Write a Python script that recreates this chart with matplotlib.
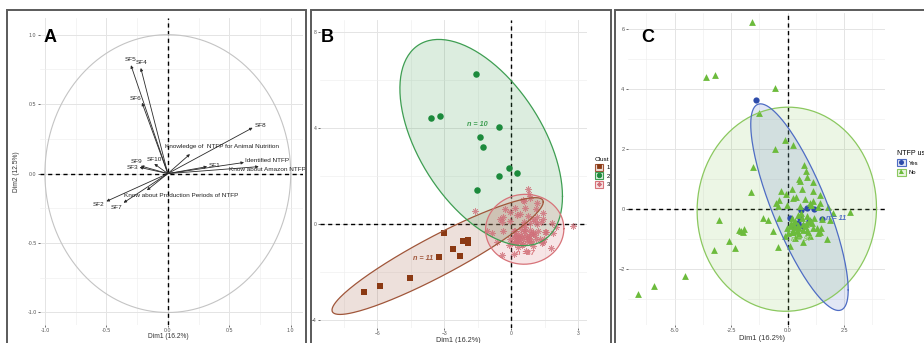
import numpy as np
import matplotlib.pyplot as plt
from matplotlib.patches import Patch, Rectangle
from matplotlib.lines import Line2D

plt.rcParams['font.family'] = ['Liberation Sans', 'DejaVu Sans']

W, H = 924, 343  # figure size in pixels

# ----------------------------
# Panel A: variables on Dim1 / Dim2
# ----------------------------
var_names = ["SF5", "SF4", "SF6", "SF8",
             "Knowledge of  NTFP for Animal Nutrition",
             "Identified NTFP", "Know about Amazon NTFP", "SF1",
             "SF10", "SF9", "SF3", "SF2", "SF7",
             "Know about Production Periods of NTFP"]
var_dim1 = [-0.30, -0.22, -0.21, 0.69, 0.18, 0.62, 0.74, 0.32,
            -0.11, -0.22, -0.23, -0.50, -0.36, -0.17]
var_dim2 = [0.78, 0.76, 0.51, 0.33, 0.14, 0.08, 0.05, 0.05,
            0.07, 0.055, 0.045, -0.20, -0.21, -0.12]

# ----------------------------
# Panels B and C: individuals (same PCA, two groupings)
# ----------------------------
clust1_dim1 = [-3.03, -2.15, -1.94, -1.96, -2.05, -2.60, -2.31, -3.24, -4.52, -5.90, -6.61]
clust1_dim2 = [-0.36, -0.71, -0.67, -0.78, -0.72, -1.06, -1.31, -1.38, -2.24, -2.58, -2.85]
clust1_use = ["No", "No", "No", "No", "No", "No", "No", "No", "No", "No", "No"]

clust2_dim1 = [-1.58, -3.60, -3.21, -0.55, -1.39, -1.25, -0.10, -0.55, 0.25, -1.52]
clust2_dim2 = [6.25, 4.42, 4.49, 4.06, 3.64, 3.21, 2.32, 2.01, 2.13, 1.42]
clust2_use = ["No", "No", "No", "No", "Yes", "No", "No", "No", "No", "No"]

clust3_dim1 = [-1.62, 0.74, 0.80, 0.84, 0.52, 0.55, 1.14, 0.18, 0.62, 1.11,
               1.43, 1.14, 0.99, -0.28, -0.37, -0.07, -0.41, -1.08, -0.86, -0.66,
               -0.43, 1.76, 2.76, 1.80, 1.51, 1.29, 1.46, 0.18, -0.12, 0.25,
               -0.04, 0.55, 1.43, 1.88, 0.18, 0.32, 0.62, 0.84, 0.47, 0.77,
               1.06, 0.10, 0.25, -0.04, 0.03, 0.40, 0.84, 0.47, 0.99, 1.36,
               0.32, 0.10, 0.67, -0.52, 0.37, 0.75, 1.04, 1.34, 2.01, 1.19,
               -0.37, 0.45, 0.97, 0.22, 0.67, 0.90, 0.52, 1.12, 0.22, 0.52,
               0.90, 1.42, 0.60, 0.35, 0.70, 0.15, 0.80,
               0.10, 0.58, 0.84, 1.17, 1.54, 0.45, 0.70, 0.30, 0.95, 0.55]
clust3_dim2 = [0.56, 1.46, 1.26, 1.07, 1.01, 0.94, 0.89, 0.67, 0.67, 0.61,
               0.46, 0.28, 0.22, 0.61, 0.31, 0.51, 0.09, -0.30, -0.36, -0.74,
               -1.27, -1.00, -0.10, 0.06, -0.33, -0.63, -0.63, -0.78, -0.89, 0.37,
               0.14, 0.09, 0.20, -0.36, -0.30, -0.41, -0.30, -0.24, -0.52, -0.58,
               -0.47, -0.58, -0.69, -0.63, -0.80, -0.74, -0.69, -0.86, -0.91, -0.80,
               -0.97, -1.24, -1.11, 0.21, 0.42, 0.35, 0.14, 0.07, -0.14, -0.28,
               -0.28, -0.21, -0.35, -0.49, -0.49, -0.42, -0.63, -0.63, -0.76, -0.83,
               -0.76, -0.76, -0.14, -0.60, -0.70, -0.45, -0.50,
               -0.30, -0.04, 0.03, 0.01, -0.32, -0.45, -0.55, -0.60, -0.40, -0.30]
clust3_use = ["No"] * 77 + ["Yes"] * 10

dim1 = np.array(clust1_dim1 + clust2_dim1 + clust3_dim1)
dim2 = np.array(clust1_dim2 + clust2_dim2 + clust3_dim2)
clust = np.array([1] * len(clust1_dim1) + [2] * len(clust2_dim1) + [3] * len(clust3_dim1))
ntfp_use = np.array(clust1_use + clust2_use + clust3_use)

clust_labels = ["1", "2", "3"]
use_labels = ["Yes", "No"]


def px_rect(left, top, right, bottom):
    return [left / W, 1 - bottom / H, (right - left) / W, (bottom - top) / H]


def norm_ellipse(x, y, level=0.95, npts=200):
    """Outline of a normal-theory confidence ellipse (like stat_ellipse type='norm')."""
    x = np.asarray(x, float)
    y = np.asarray(y, float)
    d2 = len(x) - 1
    # closed form quantile of F(2, d2)
    fq = d2 / 2.0 * ((1 - level) ** (-2.0 / d2) - 1)
    radius = np.sqrt(2 * fq)
    chol = np.linalg.cholesky(np.cov(x, y))
    t = np.linspace(0, 2 * np.pi, npts)
    pts = radius * chol @ np.vstack([np.cos(t), np.sin(t)])
    return x.mean() + pts[0], y.mean() + pts[1]


def style_axes(ax, major_x, major_y, minor_x, minor_y, fs):
    for s in ax.spines.values():
        s.set_visible(False)
    ax.set_xticks(major_x)
    ax.set_yticks(major_y)
    ax.set_xticks(minor_x, minor=True)
    ax.set_yticks(minor_y, minor=True)
    ax.grid(True, which='major', color='#E4E4E4', lw=0.7)
    ax.grid(True, which='minor', color='#EFEFEF', lw=0.45)
    ax.set_axisbelow(True)
    ax.tick_params(which='major', length=1.5, width=0.5, color='#333333',
                   labelsize=fs, labelcolor='#555555', pad=1)
    ax.tick_params(which='minor', length=0)


def zero_lines(ax):
    ax.axhline(0, color='black', lw=1.0, ls=(0, (3, 2.5)), zorder=1.5)
    ax.axvline(0, color='black', lw=1.0, ls=(0, (3, 2.5)), zorder=1.5)


fig = plt.figure(figsize=(W / 100, H / 100), dpi=100)

# panel frames
for (l, r) in [(7, 306), (311, 611), (615, 930)]:
    fig.patches.append(Rectangle((l / W, -0.1), (r - l) / W, 1 - 10 / H + 0.1,
                                 transform=fig.transFigure, fill=False,
                                 ec='#5A5A5A', lw=1.4))

# ---------------- Panel A ----------------
axA = fig.add_axes(px_rect(40, 18, 303, 325))
axA.set_xlim(-1.04, 1.10)
axA.set_ylim(-1.09, 1.12)
style_axes(axA, [-1, -0.5, 0, 0.5, 1], [-1, -0.5, 0, 0.5, 1],
           [-0.75, -0.25, 0.25, 0.75], [-0.75, -0.25, 0.25, 0.75], 3.8)
axA.set_xticklabels(["-1.0", "-0.5", "0.0", "0.5", "1.0"])
axA.set_yticklabels(["-1.0", "-0.5", "0.0", "0.5", "1.0"])
theta = np.linspace(0, 2 * np.pi, 300)
axA.plot(np.cos(theta), np.sin(theta), color='#C4C4C4', lw=0.8)
zero_lines(axA)

label_offsets = {"SF5": (0, 6), "SF4": (1, 6), "SF6": (-6, 4), "SF8": (8, 2),
                 "Knowledge of  NTFP for Animal Nutrition": (32, 8),
                 "Identified NTFP": (23, 2), "Know about Amazon NTFP": (9, -3),
                 "SF1": (7, 1), "SF10": (0, 4), "SF9": (-4, 4), "SF3": (-7, 0),
                 "SF2": (-8, -3), "SF7": (-7, -5),
                 "Know about Production Periods of NTFP": (34, -5)}
for name, vx, vy in zip(var_names, var_dim1, var_dim2):
    axA.annotate("", xy=(vx, vy), xytext=(0, 0),
                 arrowprops=dict(arrowstyle='-|>', color='#2A2A2A', lw=0.6,
                                 mutation_scale=4, shrinkA=0, shrinkB=0), zorder=3)
    dx, dy = label_offsets[name]
    axA.annotate(name, xy=(vx, vy), xytext=(dx, dy), textcoords='offset pixels',
                 ha='center', va='center', fontsize=4.6, color='#222222', zorder=4)

fig.text(168 / W, 1 - 337 / H, "Dim1 (16.2%)", ha='center', va='center',
         fontsize=4.8, color='#333333')
fig.text(17 / W, 1 - 172 / H, "Dim2 (12.5%)", ha='center', va='center',
         rotation=90, fontsize=4.8, color='#333333')
fig.text(50 / W, 1 - 42 / H, "A", ha='center', va='baseline', fontsize=13,
         fontweight='bold')

# ---------------- Panel B ----------------
axB = fig.add_axes(px_rect(320, 20, 587, 328))
axB.set_xlim(-8.57, 3.39)
axB.set_ylim(-4.33, 8.5)
style_axes(axB, [-6, -3, 0, 3], [-4, 0, 4, 8],
           [-7.5, -4.5, -1.5, 1.5], [-2, 2, 6], 3.6)
zero_lines(axB)

clust_colors = {1: '#8B3A14', 2: '#1C8A3C', 3: '#D0707A'}
clust_edges = {1: '#A0563A', 2: '#3E9E52', 3: '#D77379'}
clust_markers = {1: 's', 2: 'o', 3: (8, 2, 0)}
clust_sizes = {1: 20, 2: 22, 3: 17}
for k in [1, 2, 3]:
    m = clust == k
    ex, ey = norm_ellipse(dim1[m], dim2[m])
    axB.fill(ex, ey, color=clust_edges[k], alpha=0.18, lw=0, zorder=2)
    axB.plot(ex, ey, color=clust_edges[k], lw=0.9, zorder=4)
for k in [1, 2, 3]:
    m = clust == k
    if k == 3:
        axB.scatter(dim1[m], dim2[m], marker=clust_markers[k], s=clust_sizes[k],
                    color=clust_colors[k], lw=0.6, alpha=0.8, zorder=3)
    else:
        axB.scatter(dim1[m], dim2[m], marker=clust_markers[k], s=clust_sizes[k],
                    color=clust_colors[k], lw=0, zorder=3)

nB_text = {1: (-3.94, -1.43), 2: (-1.52, 4.15), 3: (0.61, -1.22)}
for k in [1, 2, 3]:
    n = int((clust == k).sum())
    txt = f"n = {n}" if k != 3 else f"n ={n}"
    axB.text(*nB_text[k], txt, ha='center', va='center', fontsize=5.2,
             fontweight='bold', fontstyle='italic', color=clust_edges[k], zorder=5)

handlesB = []
for k in [1, 2, 3]:
    handlesB.append((Patch(facecolor=clust_edges[k] + '30', edgecolor=clust_edges[k], lw=0.8),
                     Line2D([], [], marker=clust_markers[k], ls='', color=clust_colors[k],
                            markersize=3.2, mew=0.6)))
legB = axB.legend(handlesB, clust_labels, title="Clust", loc='upper left',
                  bbox_to_anchor=(592 / W, 1 - 154 / H), bbox_transform=fig.transFigure,
                  frameon=False, fontsize=4.2, title_fontsize=4.6, handlelength=1.45,
                  handleheight=1.45, labelspacing=0.3, handletextpad=0.5,
                  borderpad=0, alignment='left')

fig.text(458 / W, 1 - 340 / H, "Dim1 (16.2%)", ha='center', va='center',
         fontsize=5.2, color='#333333')
fig.text(327 / W, 1 - 42 / H, "B", ha='center', va='baseline', fontsize=13,
         fontweight='bold')

# ---------------- Panel C ----------------
axC = fig.add_axes(px_rect(628, 13, 885, 325))
axC.set_xlim(-7.06, 4.31)
axC.set_ylim(-3.87, 6.55)
style_axes(axC, [-5, -2.5, 0, 2.5], [-2, 0, 2, 4, 6],
           [-6.25, -3.75, -1.25, 1.25, 3.75], [-3, -1, 1, 3, 5], 4.0)
axC.set_xticklabels(["-5.0", "-2.5", "0.0", "2.5"])
zero_lines(axC)

use_colors = {"Yes": '#2D4BAA', "No": '#6CBB3C'}
use_edges = {"Yes": '#4E6CC4', "No": '#8BC85F'}
use_markers = {"Yes": 'o', "No": '^'}
use_sizes = {"Yes": 20, "No": 24}
for g in ["No", "Yes"]:
    m = ntfp_use == g
    ex, ey = norm_ellipse(dim1[m], dim2[m])
    axC.fill(ex, ey, color=use_edges[g], alpha=0.16, lw=0, zorder=2)
    axC.plot(ex, ey, color=use_edges[g], lw=0.9, zorder=4)
for g in use_labels:
    m = ntfp_use == g
    axC.scatter(dim1[m], dim2[m], marker=use_markers[g], s=use_sizes[g],
                color=use_colors[g], lw=0, zorder=3)

nC_text = {"Yes": (2.14, -0.32), "No": (0.62, -1.03)}
for g in use_labels:
    n = int((ntfp_use == g).sum())
    axC.text(*nC_text[g], f"n = {n}", ha='center', va='center', fontsize=5.2,
             fontweight='bold', fontstyle='italic', color=use_edges[g], zorder=5)

handlesC = []
for g in use_labels:
    handlesC.append((Patch(facecolor=use_edges[g] + '30', edgecolor=use_edges[g], lw=0.8),
                     Line2D([], [], marker=use_markers[g], ls='', color=use_colors[g],
                            markersize=3.6, mew=0)))
# the reference crops this legend title at the right edge of the figure
legC = axC.legend(handlesC, use_labels, title="NTFP use", loc='upper left',
                  bbox_to_anchor=(894 / W, 1 - 147 / H), bbox_transform=fig.transFigure,
                  frameon=False, fontsize=4.2, title_fontsize=5.0, handlelength=1.5,
                  handleheight=1.5, labelspacing=0.4, handletextpad=0.5,
                  borderpad=0, alignment='left')

fig.text(762 / W, 1 - 338 / H, "Dim1 (16.2%)", ha='center', va='center',
         fontsize=5.4, color='#333333')
fig.text(648 / W, 1 - 42 / H, "C", ha='center', va='baseline', fontsize=13,
         fontweight='bold')

fig.savefig("out.png", dpi=100, facecolor='white')
